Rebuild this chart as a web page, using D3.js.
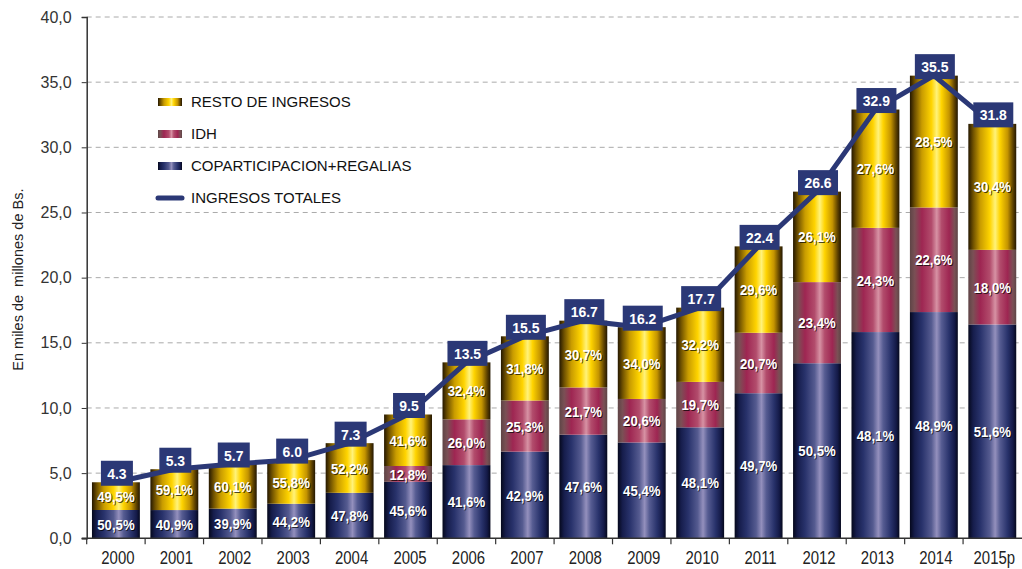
<!DOCTYPE html>
<html>
<head>
<meta charset="utf-8">
<script src="https://cdn.jsdelivr.net/npm/d3@7.9.0/dist/d3.min.js"></script>
<style>
  body { margin: 0; background: #fff; }
  svg { display: block; font-family: "Liberation Sans", Arial, sans-serif; }
</style>
</head>
<body>
<svg id="chart" width="1022" height="569"></svg>
<script>
// values (miles de millones de Bs. and % shares)
const years = ['2000', '2001', '2002', '2003', '2004', '2005', '2006', '2007',
  '2008', '2009', '2010', '2011', '2012', '2013', '2014', '2015p'];
const totals = [4.3, 5.3, 5.7, 6.0, 7.3, 9.5, 13.5, 15.5, 16.7, 16.2, 17.7, 22.4, 26.6, 32.9, 35.5, 31.8];
const copartPct = [50.5, 40.9, 39.9, 44.2, 47.8, 45.6, 41.6, 42.9, 47.6, 45.4, 48.1, 49.7, 50.5, 48.1, 48.9, 51.6];
const idhPct = [0, 0, 0, 0, 0, 12.8, 26.0, 25.3, 21.7, 20.6, 19.7, 20.7, 23.4, 24.3, 22.6, 18.0];
const restoPct = [49.5, 59.1, 60.1, 55.8, 52.2, 41.6, 32.4, 31.8, 30.7, 34.0, 32.2, 29.6, 26.1, 27.6, 28.5, 30.4];
const yTicks = [0, 5, 10, 15, 20, 25, 30, 35, 40];

const series = [
  { key: 'copart', label: 'COPARTICIPACION+REGALIAS', pct: copartPct, grad: 'g-blue' },
  { key: 'idh', label: 'IDH', pct: idhPct, grad: 'g-red' },
  { key: 'resto', label: 'RESTO DE INGRESOS', pct: restoPct, grad: 'g-gold' },
];

const svg = d3.select('#chart');
const margin = { left: 86.7, right: 0.5, top: 17, bottom: 30.7 };
const width = 1022, height = 569;

const x = d3.scaleBand()
  .domain(years)
  .range([margin.left, width - margin.right])
  .paddingInner(0.18)
  .paddingOuter(0.09);

const y = d3.scaleLinear()
  .domain([0, 40])
  .range([height - margin.bottom, margin.top]);

const cx = d => x(d) + x.bandwidth() / 2;

// gradients
const defs = svg.append('defs');
const gradStops = {
  'g-gold': [[0, '#241700'], [0.1, '#6e5000'], [0.25, '#c99c00'], [0.45, '#ffd400'], [0.56, '#fff27a'],
    [0.66, '#ffd400'], [0.82, '#c49400'], [0.93, '#5e4200'], [1, '#241700']],
  'g-blue': [[0, '#05081c'], [0.1, '#161d4c'], [0.25, '#28326b'], [0.45, '#555b90'], [0.56, '#9490bd'],
    [0.66, '#565c92'], [0.82, '#28326b'], [0.93, '#141a48'], [1, '#05081c']],
  'g-red': [[0, '#5e4446'], [0.1, '#7a5055'], [0.25, '#9e2652'], [0.45, '#b24c6c'], [0.56, '#d792a4'],
    [0.66, '#b24c6c'], [0.82, '#9e2652'], [0.93, '#7a5055'], [1, '#5e4446']],
};
Object.entries(gradStops).forEach(([id, stops]) => {
  const g = defs.append('linearGradient').attr('id', id)
    .attr('x1', 0).attr('x2', 1).attr('y1', 0).attr('y2', 0);
  stops.forEach(([o, c]) => g.append('stop').attr('offset', o).attr('stop-color', c));
});

// grid lines
svg.append('g')
  .selectAll('line')
  .data(yTicks.filter(d => d > 0))
  .join('line')
  .attr('x1', margin.left)
  .attr('x2', width)
  .attr('y1', d => y(d))
  .attr('y2', d => y(d))
  .attr('stroke', '#aaa')
  .attr('stroke-dasharray', '5,4')
  .attr('stroke-width', 1);

// stacked bars
const rows = years.map((yr, i) => {
  let base = 0;
  return series.map(s => {
    const v = totals[i] * s.pct[i] / 100;
    const seg = { year: yr, key: s.key, grad: s.grad, pct: s.pct[i], y0: base, y1: base + v };
    base += v;
    return seg;
  });
});
const segments = rows.flat().filter(d => d.pct > 0);

svg.append('g')
  .selectAll('rect')
  .data(segments)
  .join('rect')
  .attr('x', d => x(d.year))
  .attr('width', x.bandwidth())
  .attr('y', d => y(d.y1))
  .attr('height', d => y(d.y0) - y(d.y1))
  .attr('fill', d => `url(#${d.grad})`);

// percent labels (narrow, tall text like the original)
const fmtPct = d => d.toFixed(1).replace('.', ',') + '%';
const pctG = svg.append('g')
  .attr('font-size', 15.5)
  .attr('font-weight', 'bold')
  .attr('text-anchor', 'middle');
[['rgba(0,0,0,0.7)', 1], ['#fff', 0]].forEach(([fill, off]) => {
  pctG.append('g')
    .selectAll('text')
    .data(segments)
    .join('text')
    .attr('transform', d => `translate(${cx(d.year) + off},${y((d.y0 + d.y1) / 2) + off}) scale(0.85,1)`)
    .attr('dy', '0.36em')
    .attr('fill', fill)
    .text(d => fmtPct(d.pct));
});

// axes
const yAxis = d3.axisLeft(y).tickValues(yTicks).tickSize(5)
  .tickFormat(d => d.toFixed(1).replace('.', ','));
const gy = svg.append('g')
  .attr('transform', `translate(${margin.left},0)`)
  .call(yAxis);
gy.select('.domain').attr('stroke', '#333').attr('stroke-width', 1.5);
gy.selectAll('.tick line').attr('stroke', '#333');
gy.selectAll('.tick text')
  .attr('font-size', 16)
  .attr('fill', '#333')
  .attr('x', -15)
  .attr('font-family', '"Liberation Sans", Arial, sans-serif');

const xBottom = y(0);
svg.append('line')
  .attr('x1', margin.left - 5)
  .attr('x2', width)
  .attr('y1', xBottom)
  .attr('y2', xBottom)
  .attr('stroke', '#333')
  .attr('stroke-width', 1.5);
svg.append('g')
  .selectAll('line')
  .data(years)
  .join('line')
  .attr('x1', d => x(d) - x.step() * x.paddingInner() / 2)
  .attr('x2', d => x(d) - x.step() * x.paddingInner() / 2)
  .attr('y1', xBottom)
  .attr('y2', xBottom + 6)
  .attr('stroke', '#333')
  .attr('stroke-width', 1.2);
svg.append('g')
  .selectAll('text')
  .data(years)
  .join('text')
  .attr('transform', d => `translate(${cx(d) + 2},${xBottom + 19}) scale(0.83,1)`)
  .attr('dy', '0.35em')
  .attr('text-anchor', 'middle')
  .attr('font-size', 18)
  .attr('fill', '#222')
  .text(d => d);

svg.append('text')
  .attr('transform', `translate(23,${(margin.top + xBottom) / 2 + 2}) rotate(-90)`)
  .attr('text-anchor', 'middle')
  .attr('font-size', 14.5)
  .attr('fill', '#222')
  .attr('xml:space', 'preserve')
  .text('En miles de  millones de Bs.');

// total line
const lineColor = '#2b3876';
const line = d3.line()
  .x((d, i) => cx(years[i]))
  .y(d => y(d));
svg.append('path')
  .datum(totals)
  .attr('d', line)
  .attr('fill', 'none')
  .attr('stroke', lineColor)
  .attr('stroke-width', 5)
  .attr('stroke-linejoin', 'miter');

// total value boxes
const boxG = svg.append('g')
  .selectAll('g')
  .data(totals)
  .join('g')
  .attr('transform', (d, i) => `translate(${cx(years[i]) + 1},${y(d) - 9})`);
boxG.append('rect')
  .attr('x', d => d >= 10 ? -20 : -16)
  .attr('width', d => d >= 10 ? 40 : 32)
  .attr('y', -12.5)
  .attr('height', 25)
  .attr('fill', lineColor);
boxG.append('text')
  .attr('transform', 'scale(0.9,1)')
  .attr('text-anchor', 'middle')
  .attr('dy', '0.36em')
  .attr('font-size', 15.5)
  .attr('font-weight', 'bold')
  .attr('fill', '#fff')
  .text(d => d.toFixed(1));

// legend
const legendItems = [series[2], series[1], series[0]];
const lg = svg.append('g');
legendItems.forEach((s, i) => {
  const ly = 102 + i * 32;
  lg.append('rect')
    .attr('x', 158).attr('y', ly - 4).attr('width', 24).attr('height', 8)
    .attr('fill', `url(#${s.grad})`);
  lg.append('text')
    .attr('x', 191).attr('y', ly).attr('dy', '0.35em')
    .attr('font-size', 15).attr('fill', '#111')
    .text(s.label);
});
lg.append('line')
  .attr('x1', 158).attr('x2', 182).attr('y1', 198).attr('y2', 198)
  .attr('stroke', lineColor).attr('stroke-width', 5).attr('stroke-linecap', 'round');
lg.append('text')
  .attr('x', 191).attr('y', 198).attr('dy', '0.35em')
  .attr('font-size', 15).attr('fill', '#111')
  .text('INGRESOS TOTALES');
</script>
</body>
</html>
